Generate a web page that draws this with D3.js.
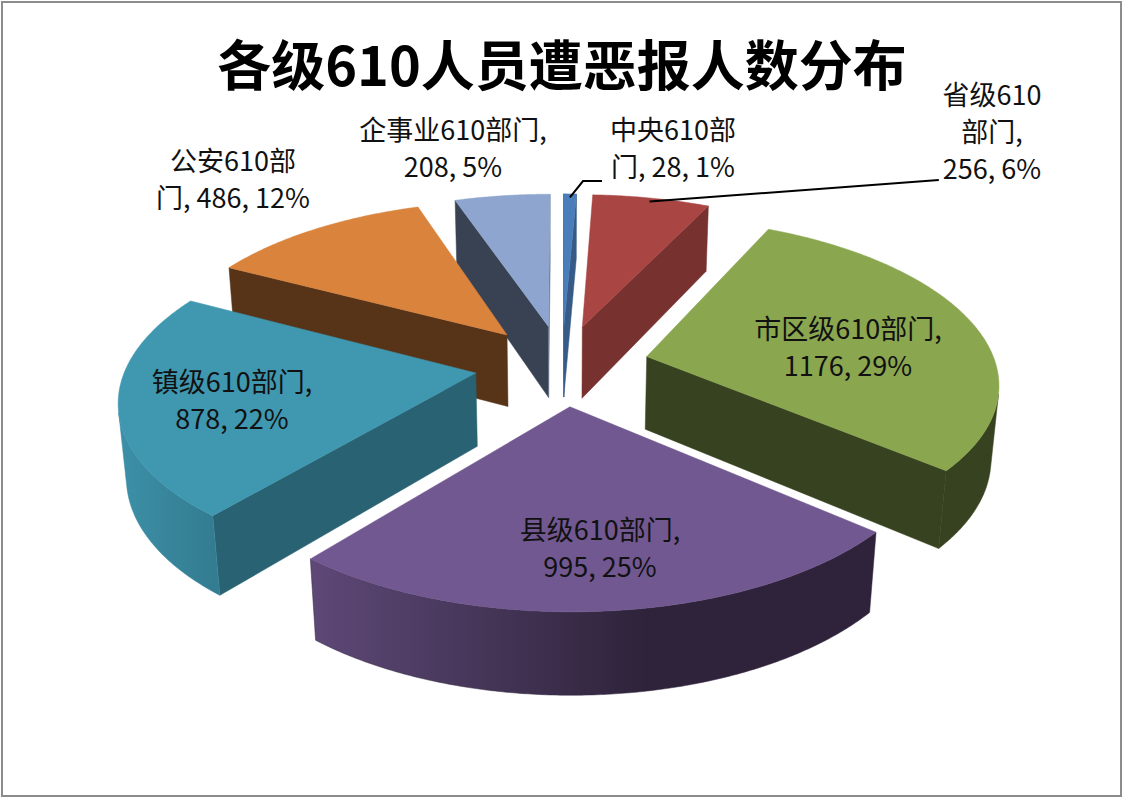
<!DOCTYPE html>
<html>
<head>
<meta charset="utf-8">
<script src="https://cdn.jsdelivr.net/npm/d3@7"></script>
<style>
  body { margin: 0; background: #fff; }
  svg { display: block; }
  text { font-family: "Noto Sans CJK SC", "Noto Sans", sans-serif; }
</style>
</head>
<body>
<div id="chart"></div>
<script>
// Data
const categories = ["中央610部门", "省级610部门", "市区级610部门", "县级610部门", "镇级610部门", "公安610部门", "企事业610部门"];
const counts = [28, 256, 1176, 995, 878, 486, 208];
const percents = [1, 6, 29, 25, 22, 12, 5];
const titleText = "各级610人员遭恶报人数分布";

// Styles / layout
const topColors = ["#4a7ebb", "#a94543", "#8aa64f", "#725891", "#3f97b0", "#d9833c", "#8ea6cf"];
const labelBreaks = [[6], [5, 8], [9], [8], [8], [6], [9]];   // char index where a label wraps
const labelLayout = [
  { x: 673, y: 131 }, { x: 992, y: 96 }, { x: 848, y: 330 }, { x: 600, y: 531 },
  { x: 232, y: 383 }, { x: 233, y: 162 }, { x: 453, y: 131 }
];
const leaderSlices = [0, 1];

const svgWidth = 1125, svgHeight = 800;

// Camera for the tilted pie
const cam = { cx: 562, cy: 365, F: 2130, D: 6.1, phi: 27.6 * Math.PI / 180 };
const sinP = Math.sin(cam.phi), cosP = Math.cos(cam.phi);
const camPos = [0, cam.D * sinP, cam.D * cosP];
const R = 1, H = 0.24, explode = 0.25;

const xScale = d3.scaleLinear().domain([0, 1]).range([cam.cx, cam.cx + cam.F]);
const yScale = d3.scaleLinear().domain([0, 1]).range([cam.cy, cam.cy - cam.F]);

function project(p) {
  const [X, Y, Z] = p;
  const yc = Y * cosP - Z * sinP;
  const d = cam.D - Y * sinP - Z * cosP;
  return [xScale(X / d), yScale(yc / d), d];
}

// lighting factors (normal angle measured clockwise from 12 o'clock)
const rad = Math.PI / 180;
const flatShade = a => 0.4 + 0.33 * Math.pow(Math.max(0, Math.cos(a - 100 * rad)), 2);
const curveShade = a => 0.4 + 0.55 * Math.max(0, Math.cos(a - 260 * rad));
const shade = (col, f) => { const c = d3.rgb(col); return d3.rgb(c.r * f, c.g * f, c.b * f).formatHex(); };

const svg = d3.select("#chart").append("svg")
  .attr("width", svgWidth).attr("height", svgHeight);
const defs = svg.append("defs");

svg.append("rect")
  .attr("x", 2).attr("y", 2).attr("width", svgWidth - 6).attr("height", svgHeight - 6)
  .attr("fill", "#fff").attr("stroke", "#8c8c8c").attr("stroke-width", 2);

const arcs = d3.pie().sort(null).value(d => d)(counts);
const visible = (n, p) => n[0] * (camPos[0] - p[0]) + n[1] * (camPos[1] - p[1]) + n[2] * (camPos[2] - p[2]) > 0;

const slices = arcs.map((a, i) => {
  const mid = (a.startAngle + a.endAngle) / 2;
  const ox = explode * Math.sin(mid), oz = -explode * Math.cos(mid);
  const pt = (ang, r, Y) => [ox + r * Math.sin(ang), Y, oz - r * Math.cos(ang)];
  const faces = [];

  // radial cut faces
  [[a.startAngle, a.startAngle - Math.PI / 2], [a.endAngle, a.endAngle + Math.PI / 2]].forEach(([ang, na]) => {
    const n = [Math.sin(na), 0, -Math.cos(na)];
    const pts = [pt(0, 0, 0), pt(ang, R, 0), pt(ang, R, -H), pt(0, 0, -H)];
    if (visible(n, pts[1])) faces.push({ pts, fill: shade(topColors[i], flatShade(na)) });
  });

  // outer curved wall: visible angle run, one path with a gradient
  const n = Math.max(4, Math.ceil((a.endAngle - a.startAngle) / (0.5 * rad)));
  const step = (a.endAngle - a.startAngle) / n;
  const vis = d3.range(n + 1).map(k => a.startAngle + k * step)
    .filter(t => visible([Math.sin(t), 0, -Math.cos(t)], pt(t, R, -H / 2)));
  if (vis.length > 1) {
    const pts = vis.map(t => pt(t, R, 0)).concat(vis.slice().reverse().map(t => pt(t, R, -H)));
    const xs = vis.map(t => project(pt(t, R, -H / 2))[0]);
    const x0 = d3.min(xs), x1 = d3.max(xs);
    const gid = "wall" + i;
    const grad = defs.append("linearGradient").attr("id", gid)
      .attr("gradientUnits", "userSpaceOnUse")
      .attr("x1", x0).attr("x2", x1).attr("y1", 0).attr("y2", 0);
    const stops = vis.map((t, k) => ({ o: (xs[k] - x0) / Math.max(1, x1 - x0), c: shade(topColors[i], curveShade(t)) }))
      .sort((p, q) => p.o - q.o);
    grad.selectAll("stop").data(stops).join("stop")
      .attr("offset", d => d.o).attr("stop-color", d => d.c);
    faces.push({ pts, fill: `url(#${gid})`, stroke: shade(topColors[i], curveShade(vis[Math.floor(vis.length / 2)])) });
  }

  // top face
  const topPts = [pt(0, 0, 0)];
  for (let k = 0; k <= n; k++) topPts.push(pt(a.startAngle + k * step, R, 0));
  faces.push({ pts: topPts, fill: topColors[i] });

  const depth = project(pt(mid, 0.6, -H / 2))[2];
  return { i, a, mid, pt, faces, depth };
});

const line = d3.line().x(d => d[0]).y(d => d[1]);

const pieG = svg.append("g").attr("class", "pie");
slices.slice().sort((p, q) => q.depth - p.depth).forEach(s => {
  pieG.append("g").selectAll("path")
    .data(s.faces)
    .join("path")
    .attr("d", f => line(f.pts.map(project)) + "Z")
    .attr("fill", f => f.fill)
    .attr("stroke", f => f.stroke || f.fill)
    .attr("stroke-width", 0.5)
    .attr("stroke-linejoin", "round");
});

// Title
svg.append("text")
  .attr("x", 562).attr("y", 86)
  .attr("text-anchor", "middle")
  .attr("font-size", 54).attr("font-weight", "bold")
  .attr("fill", "#000")
  .text(titleText);

// Data labels
const lineGap = 37;
const labelG = svg.append("g").attr("class", "labels");
slices.forEach(s => {
  const full = `${categories[s.i]}, ${counts[s.i]}, ${percents[s.i]}%`;
  const cuts = [0, ...labelBreaks[s.i], full.length];
  const lines = d3.pairs(cuts).map(([p, q]) => full.slice(p, q).trim());
  const L = labelLayout[s.i];
  const t = labelG.append("text")
    .attr("text-anchor", "middle")
    .attr("font-size", 27)
    .attr("fill", "#111");
  lines.forEach((ln, k) => {
    t.append("tspan").attr("x", L.x).attr("y", L.y + k * lineGap).attr("dy", "0.35em").text(ln);
  });
  s.labelNode = t;
  s.lastLine = { y: L.y + (lines.length - 1) * lineGap, x: L.x };
});

// Leader lines
leaderSlices.forEach(i => {
  const s = slices[i];
  const start = project(s.pt(s.mid, 0.97, 0));
  const tsp = s.labelNode.selectAll("tspan").nodes();
  const w = tsp[tsp.length - 1].getComputedTextLength();
  const left = s.lastLine.x - w / 2;
  let pts;
  if (i === 0) {
    const end = [left - 9, s.lastLine.y + 13];
    pts = [start, [end[0] - 19, end[1]], end];
  } else {
    pts = [start, [left - 4, s.lastLine.y + 10]];
  }
  svg.append("path")
    .attr("d", line(pts))
    .attr("fill", "none")
    .attr("stroke", "#000")
    .attr("stroke-width", 2);
});
</script>
</body>
</html>
